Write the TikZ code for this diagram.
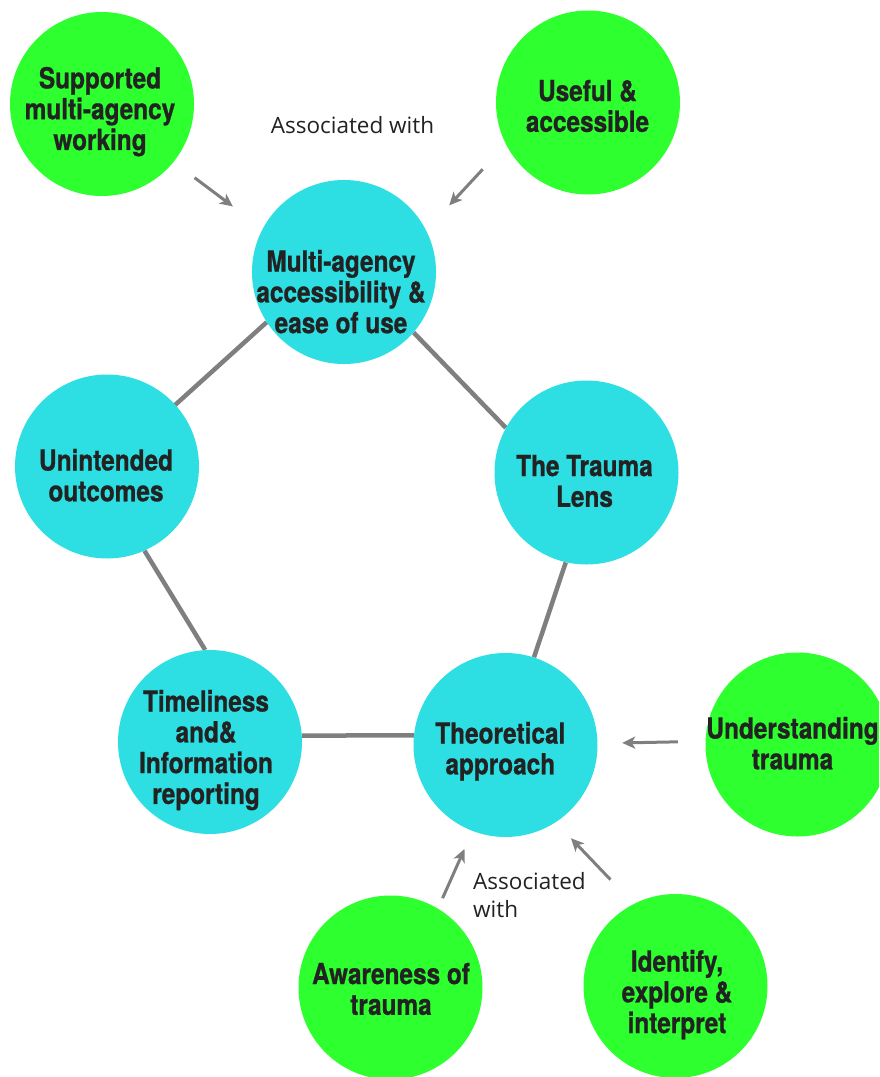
\documentclass[tikz,border=0pt]{standalone}
\usepackage{fontspec}
\usetikzlibrary{arrows.meta,backgrounds}
\newfontfamily\boldcond{TeX Gyre Heros}[FakeStretch=0.84,FakeBold=0.8]
\newfontfamily\labelfont{Open Sans}
\definecolor{cgreen}{HTML}{2EFF2E}
\definecolor{ccyan}{HTML}{2DDEE3}
\definecolor{ctext}{HTML}{222222}
\definecolor{cline}{HTML}{7F7F7F}
\tikzset{
  bubble/.style={circle, minimum size=184pt, inner sep=0pt},
  gbubble/.style={bubble, fill=cgreen},
  cbubble/.style={bubble, fill=ccyan},
  btext/.style={anchor=north, inner sep=0pt, align=center, text=ctext,
    font=\boldcond\bfseries\fontsize{29}{30.8}\selectfont},
  link/.style={draw=cline, line width=4.5pt},
  assoc/.style={draw=cline, line width=3pt, -{Stealth[length=13pt,width=12pt,inset=3.5pt]}},
  lbl/.style={text=ctext, font=\labelfont\fontsize{22.5}{28}\selectfont, inner sep=0pt}
}
\begin{document}
\begin{tikzpicture}[x=1pt,y=-1pt]
\useasboundingbox (0,0) rectangle (879,1077);
\begin{scope}
\clip (0,0) rectangle (879,1077);
% cyan nodes
\node[cbubble] (c1) at (344,272) {};
\node[cbubble] (c2) at (586.5,472.5) {};
\node[cbubble] (c3) at (107,466.5) {};
\node[cbubble] (c4) at (210,742) {};
\node[cbubble] (c5) at (505.5,745) {};
% green nodes
\node[gbubble] (g1) at (102,104) {};
\node[gbubble] (g2) at (588,102.5) {};
\node[gbubble] (g3) at (797.5,744.5) {};
\node[gbubble] (g4) at (390.5,987.5) {};
\node[gbubble] (g5) at (675.5,986) {};
% texts
\node[btext] (c1t) at (341,249.7) {Multi-agency\\accessibility \&\\ease of use};
\node[btext] (c2t) at (584.5,454.7) {The Trauma\\Lens};
\node[btext] (c3t) at (106,448.7) {Unintended\\outcomes};
\node[btext] (c4t) at (206,689.7) {Timeliness\\and\&\\Information\\reporting};
\node[btext] (c5t) at (500.3,721.7) {Theoretical\\approach};
\node[btext] (g1t) at (100,66.7) {Supported\\multi-agency\\working};
\node[btext] (g2t) at (587.5,79.7) {Useful \&\\accessible};
\node[btext] (g3t) at (792.5,716.7) {Understanding\\trauma};
\node[btext] (g4t) at (391,962.7) {Awareness of\\trauma};
\node[btext] (g5t) at (677,949.7) {Identify,\\explore \&\\interpret};
\begin{scope}[on background layer]
\draw[link] (c3.center) -- (c1.213);
\draw[link] (c1.319) -- (c2.151);
\draw[link] (c3.294) -- (c4.93);
\draw[link] (c2.257) -- (c5.72);
\draw[link] (c4.4) -- (c5.174);
\end{scope}
\draw[assoc, shorten <=26.2pt, shorten >=37.1pt] (g1.321.9) -- (c1.152.9);
\draw[assoc, shorten <=34pt, shorten >=33.8pt] (g2.207.9) -- (c1.27.7);
\draw[assoc, shorten <=27.5pt, shorten >=24.5pt] (g3.178.4) -- (c5.1.9);
\draw[assoc, shorten <=11.3pt, shorten >=19.6pt] (g4.59.5) -- (c5.249.6);
\draw[assoc, shorten <=33.5pt, shorten >=22pt] (g5.117.7) -- (c5.303.3);
\node[lbl, anchor=base] (l1) at (352.5,133) {Associated with};
\node[lbl, anchor=north west, align=left] (l2) at (473,872) {Associated\\with};
\end{scope}
\end{tikzpicture}
\end{document}
